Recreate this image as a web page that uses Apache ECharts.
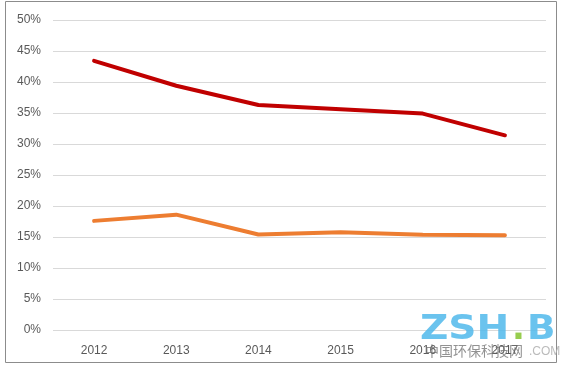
<!DOCTYPE html>
<html>
<head>
<meta charset="utf-8">
<script src="https://cdn.jsdelivr.net/npm/echarts@6/dist/echarts.min.js"></script>
<style>
html,body{margin:0;padding:0;background:#fff;}
#c{width:562px;height:368px;}
</style>
</head>
<body>
<div id="c"></div>
<script>
const categories = ['2012', '2013', '2014', '2015', '2016', '2017'];
const seriesRed = [43.4, 39.4, 36.3, 35.6, 34.9, 31.4];
const seriesOrange = [17.6, 18.6, 15.4, 15.75, 15.35, 15.3];
const yTicks = [0, 5, 10, 15, 20, 25, 30, 35, 40, 45, 50];

const chart = echarts.init(document.getElementById('c'));
chart.setOption({
  animation: false,
  backgroundColor: '#fff',
  grid: { left: 53, right: 16, top: 20, bottom: 38, containLabel: false },
  xAxis: {
    type: 'category',
    data: categories,
    boundaryGap: true,
    axisLine: { show: false },
    axisTick: { show: false },
    axisLabel: { color: '#595959', fontSize: 12, fontFamily: 'Liberation Sans', margin: 15 }
  },
  yAxis: {
    type: 'value',
    min: yTicks[0],
    max: yTicks[yTicks.length - 1],
    interval: 5,
    axisLine: { show: false },
    axisTick: { show: false },
    splitLine: { lineStyle: { color: '#d9d9d9', width: 1 } },
    axisLabel: { color: '#595959', fontSize: 12, fontFamily: 'Liberation Sans', margin: 12, formatter: '{value}%' }
  },
  series: [
    { type: 'line', data: seriesRed, symbol: 'none', lineStyle: { color: '#C00000', width: 4, cap: 'round' }, itemStyle: { color: '#C00000' } },
    { type: 'line', data: seriesOrange, symbol: 'none', lineStyle: { color: '#ED7D31', width: 4, cap: 'round' }, itemStyle: { color: '#ED7D31' } }
  ],
  graphic: [
    { type: 'rect', shape: { x: 5.5, y: 1.5, width: 551, height: 361 }, style: { fill: 'none', stroke: '#8c8c8c', lineWidth: 1 }, z: 10 },
    { type: 'text', x: 420, y: 313, scaleX: 1.15, style: { text: 'ZSH', fill: 'rgba(80,185,235,0.85)', font: 'bold 34px "DejaVu Sans"' }, z: 20 },
    { type: 'text', x: 512, y: 313, style: { text: '.', fill: 'rgba(140,200,60,0.9)', font: 'bold 34px "DejaVu Sans"' }, z: 20 },
    { type: 'text', x: 527, y: 313, scaleX: 1.1, style: { text: 'B', fill: 'rgba(80,185,235,0.85)', font: 'bold 34px "DejaVu Sans"' }, z: 20 },
    { type: 'text', x: 425, y: 344, style: { text: '中国环保科技网', fill: 'rgba(110,110,110,0.75)', font: '14px "Noto Sans CJK SC"' }, z: 20 },
    { type: 'text', x: 529, y: 346, style: { text: '.COM', fill: 'rgba(180,180,180,0.9)', font: '12px "Liberation Sans"' }, z: 20 }
  ]
});
</script>
</body>
</html>
